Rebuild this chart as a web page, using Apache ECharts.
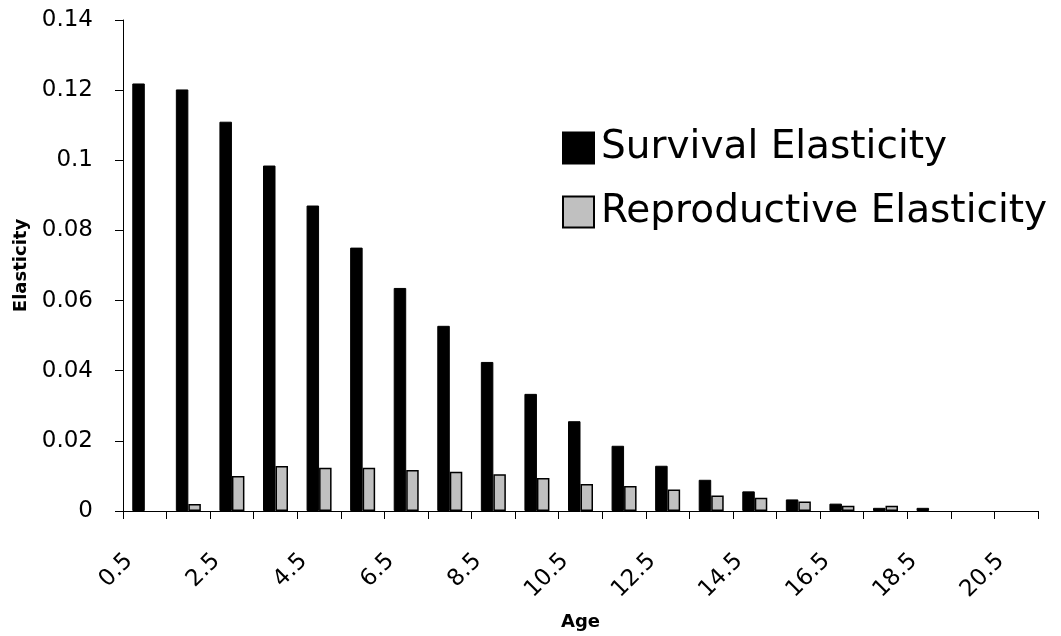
<!DOCTYPE html>
<html>
<head>
<meta charset="utf-8">
<script src="https://cdn.jsdelivr.net/npm/echarts@6/dist/echarts.min.js"></script>
<style>
html,body{margin:0;padding:0;background:#fff;}
#chart{width:1061px;height:636px;}
</style>
</head>
<body>
<div id="chart"></div>
<script>
const categories = ['0.5','1.5','2.5','3.5','4.5','5.5','6.5','7.5','8.5','9.5','10.5','11.5','12.5','13.5','14.5','15.5','16.5','17.5','18.5','19.5','20.5'];
const survival = [0.1219,0.1202,0.1110,0.0985,0.0871,0.0751,0.0636,0.0528,0.0425,0.0334,0.0256,0.0186,0.0129,0.0089,0.0056,0.0033,0.0021,0.0009,0.0009,0,0];
const reproductive = [0,0.0020,0.0100,0.0128,0.0123,0.0123,0.0117,0.0112,0.0105,0.0094,0.0077,0.0071,0.0061,0.0044,0.0038,0.0027,0.0015,0.0015,0,0,0];
const yTicks = {min:0, max:0.14, interval:0.02};
const seriesNames = ['Survival Elasticity','Reproductive Elasticity'];

const FONT = 'DejaVu Sans';
// zero values get no visible outline (as in the reference)
const toItems = arr => arr.map(v => v === 0 ? {value:v, itemStyle:{borderWidth:0, opacity:0}} : v);

const chart = echarts.init(document.getElementById('chart'));
chart.setOption({
  backgroundColor:'#fff',
  animation:false,
  grid:{left:123,right:23,top:20,bottom:125,containLabel:false},
  legend:{
    orient:'vertical',
    left:557, top:123,
    itemWidth:31, itemHeight:31, itemGap:24,
    icon:'rect',
    textStyle:{fontFamily:FONT,fontSize:39,color:'#000',lineHeight:40,padding:[0,0,0,2]},
    data:seriesNames
  },
  xAxis:{
    type:'category',
    data:categories,
    name:'Age',
    nameLocation:'middle',
    nameGap:102,
    nameTextStyle:{fontFamily:FONT,fontSize:18,fontWeight:'bold',color:'#000'},
    axisLine:{lineStyle:{color:'#000',width:1}},
    axisTick:{show:true,alignWithLabel:false,length:8,interval:0,lineStyle:{color:'#000'}},
    axisLabel:{interval:1,rotate:45,margin:31,padding:[0,22,0,0],fontFamily:FONT,fontSize:23,color:'#000'},
    splitLine:{show:false}
  },
  yAxis:{
    type:'value',
    min:yTicks.min,max:yTicks.max,interval:yTicks.interval,
    name:'Elasticity',
    nameLocation:'middle',
    nameGap:93,
    nameRotate:90,
    nameTextStyle:{fontFamily:FONT,fontSize:18,fontWeight:'bold',color:'#000'},
    axisLine:{show:true,lineStyle:{color:'#000',width:1}},
    axisTick:{show:true,length:8,lineStyle:{color:'#000'}},
    axisLabel:{margin:30,fontFamily:FONT,fontSize:23,color:'#000'},
    splitLine:{show:false}
  },
  series:[
    {name:seriesNames[0],type:'bar',data:toItems(survival),barWidth:12.5,barGap:'0%',
     itemStyle:{color:'#000',borderColor:'#000',borderWidth:1}},
    {name:seriesNames[1],type:'bar',data:toItems(reproductive),barWidth:12.5,barGap:'0%',
     itemStyle:{color:'#c0c0c0',borderColor:'#000',borderWidth:1.5}}
  ]
});
</script>
</body>
</html>
